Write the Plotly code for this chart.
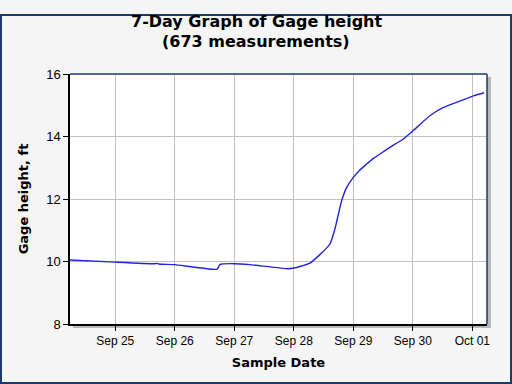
import plotly.graph_objects as go

times = [
    "2023-09-24 05:45", "2023-09-25 00:00", "2023-09-25 16:00", "2023-09-25 16:45",
    "2023-09-25 17:30", "2023-09-26 00:00", "2023-09-26 17:00", "2023-09-26 18:15",
    "2023-09-27 00:00", "2023-09-27 06:20", "2023-09-27 21:40", "2023-09-28 00:00",
    "2023-09-28 02:30", "2023-09-28 06:30", "2023-09-28 10:30", "2023-09-28 14:35",
    "2023-09-28 16:35", "2023-09-28 18:00", "2023-09-28 19:20", "2023-09-28 21:20",
    "2023-09-29 00:00", "2023-09-29 02:40", "2023-09-29 05:25", "2023-09-29 08:05",
    "2023-09-29 10:45", "2023-09-29 14:45", "2023-09-29 20:10", "2023-09-30 00:10",
    "2023-09-30 07:00", "2023-09-30 12:20", "2023-09-30 19:10", "2023-10-01 00:25",
    "2023-10-01 04:45",
]
gage_height = [
    10.05, 9.98, 9.93, 9.94,
    9.92, 9.90, 9.75, 9.91,
    9.93, 9.90, 9.77, 9.79,
    9.84, 9.95, 10.22, 10.56,
    11.04, 11.52, 11.95, 12.37,
    12.69, 12.93, 13.12, 13.30,
    13.44, 13.65, 13.92, 14.19,
    14.67, 14.93, 15.14, 15.30,
    15.40,
]
tick_vals = ["2023-09-25", "2023-09-26", "2023-09-27", "2023-09-28",
             "2023-09-29", "2023-09-30", "2023-10-01"]
tick_text = ["Sep 25", "Sep 26", "Sep 27", "Sep 28", "Sep 29", "Sep 30", "Oct 01"]
y_ticks = [8, 10, 12, 14, 16]

fig = go.Figure()
fig.add_trace(go.Scatter(x=times, y=gage_height, mode="lines",
                         line=dict(color="#2424e0", width=1.4, shape="spline", smoothing=0.4),
                         hoverinfo="skip"))

navy = "#1c3a68"
shapes = [
    dict(type="rect", xref="paper", yref="paper", xsizemode="pixel", ysizemode="pixel",
         xanchor=0, yanchor=0, x0=-69, x1=441, y0=-59, y1=309,
         line=dict(color=navy, width=2), fillcolor="rgba(0,0,0,0)", layer="below"),
    dict(type="rect", xref="paper", yref="paper", xsizemode="pixel", ysizemode="pixel",
         xanchor=0, yanchor=0, x0=3, x1=421, y0=-4, y1=247,
         line=dict(width=0), fillcolor="#b8b8b8", layer="below"),
    dict(type="rect", xref="paper", yref="paper", x0=0, x1=1, y0=0, y1=1,
         line=dict(width=0), fillcolor="white", layer="below"),
    dict(type="line", xref="paper", yref="paper", x0=0, x1=1, y0=1, y1=1,
         line=dict(color=navy, width=1.5)),
    dict(type="line", xref="paper", yref="paper", x0=1, x1=1, y0=0, y1=1,
         line=dict(color=navy, width=1.5)),
]

title_font = dict(family="DejaVu Sans", size=16, color="black", weight="bold")
annotations = [
    dict(text="7-Day Graph of Gage height", xref="paper", yref="paper",
         x=(256 - 70) / 417, y=1 + 52.5 / 250, xanchor="center", yanchor="middle",
         showarrow=False, font=title_font),
    dict(text="(673 measurements)", xref="paper", yref="paper",
         x=(256 - 70) / 417, y=1 + 32.5 / 250, xanchor="center", yanchor="middle",
         showarrow=False, font=title_font),
]

fig.update_layout(
    width=512, height=384,
    margin=dict(l=70, r=25, t=74, b=60),
    paper_bgcolor="#f5f5f5", plot_bgcolor="white",
    showlegend=False,
    shapes=shapes, annotations=annotations,
    xaxis=dict(range=["2023-09-24 05:45", "2023-10-01 05:55"], tickvals=tick_vals,
               ticktext=tick_text, showgrid=True, gridcolor="#c0c0c0", gridwidth=1,
               ticks="outside", ticklen=5, tickcolor="black", showline=True,
               linecolor="black", linewidth=1.5,
               tickfont=dict(family="Liberation Sans", size=12, color="black"),
               title=dict(text="<b>Sample Date</b>", standoff=11,
                          font=dict(family="DejaVu Sans", size=13, color="black"))),
    yaxis=dict(range=[8, 16], tickvals=y_ticks, showgrid=True, gridcolor="#c0c0c0",
               gridwidth=1, ticks="outside", ticklen=5, tickcolor="black", showline=True,
               linecolor="black", linewidth=1.5, zeroline=False,
               tickfont=dict(family="Liberation Sans", size=13, color="black"),
               title=dict(text="<b>Gage height, ft</b>", standoff=15,
                          font=dict(family="DejaVu Sans", size=13, color="black"))),
)

fig.write_html("out.html", config={"displayModeBar": False},
               post_script="document.body.style.margin='0';document.body.style.overflow='hidden';")
